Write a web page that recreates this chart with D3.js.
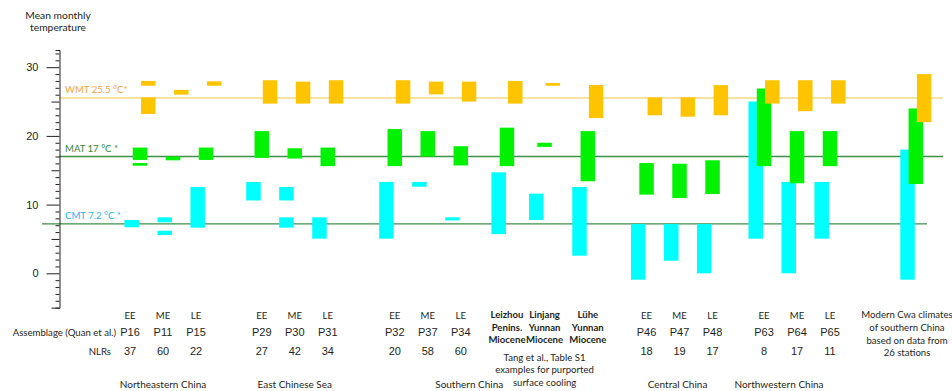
<!DOCTYPE html>
<html>
<head>
<meta charset="utf-8">
<script src="https://cdn.jsdelivr.net/npm/d3@7"></script>
<style>
  html, body { margin: 0; padding: 0; background: #fff; }
  svg { display: block; }
  .lbl { font-family: Lato, "Open Sans", sans-serif; fill: #231f20; }
  .num { font-family: "Liberation Sans", Arial, sans-serif; fill: #231f20; }
</style>
</head>
<body>
<svg id="chart" width="952" height="391"></svg>
<script>
// ---- data -------------------------------------------------------------
const assemblages = ["P16","P11","P15","P29","P30","P31","P32","P37","P34",
  "Leizhou","Linjang","Lühe","P46","P47","P48","P63","P64","P65","Modern"];
const eras = ["EE","ME","LE","EE","ME","LE","EE","ME","LE","","","",
  "EE","ME","LE","EE","ME","LE",""];
const nlrs = ["37","60","22","27","42","34","20","58","60","","","",
  "18","19","17","8","17","11",""];
const regionNames = ["Northeastern China","East Chinese Sea","Southern China",
  "Central China","Northwestern China"];
const regionOf = [0,0,0,1,1,1,2,2,2,2,2,2,3,3,3,4,4,4,-1];

// temperature ranges [low, high] in °C; some assemblages give two ranges
const wmtRanges = [
  [[23.2,25.6],[27.3,28.0]], [[26.0,26.7]], [[27.3,27.95]],
  [[24.7,28.1]], [[24.7,27.9]], [[24.7,28.1]],
  [[24.7,28.1]], [[26.05,27.9]], [[25.0,27.9]],
  [[24.7,28.0]], [[27.3,27.7]], [[22.6,27.4]],
  [[23.0,25.6]], [[22.8,25.6]], [[23.0,27.4]],
  [[24.7,28.1]], [[23.6,28.1]], [[24.7,28.1]],
  [[22.0,29.0]]
];
const matRanges = [
  [[16.5,18.3],[15.66,16.05]], [[16.45,17.0]], [[16.5,18.3]],
  [[16.8,20.7]], [[16.7,18.2]], [[15.6,18.3]],
  [[15.6,21.0]], [[17.0,20.7]], [[15.7,18.5]],
  [[15.6,21.2]], [[18.4,19.0]], [[13.4,20.7]],
  [[11.45,16.05]], [[10.96,15.95]], [[11.54,16.45]],
  [[15.6,26.9]], [[13.1,20.7]], [[15.6,20.7]],
  [[13.0,24.0]]
];
const cmtRanges = [
  [[6.7,7.76]], [[7.42,8.15],[5.57,6.2]], [[6.64,12.56]],
  [[10.6,13.3]], [[10.6,12.56],[6.64,8.15]], [[5.04,8.15]],
  [[5.04,13.3]], [[12.6,13.3]], [[7.7,8.15]],
  [[5.7,14.7]], [[7.76,11.6]], [[2.56,12.56]],
  [[-0.93,7.18]], [[1.83,7.18]], [[0,7.18]],
  [[5.04,25.0]], [[0,13.3]], [[5.04,13.3]],
  [[-0.93,18.0]]
];

const refNames = ["CMT","MAT","WMT"];
const refValues = [7.2, 17, 25.5];
const refLabels = ["CMT 7.2 °C *","MAT 17 °C *","WMT 25.5 °C*"];
const yTickLabels = [0, 10, 20, 30];

const specialLabels = [
  ["Leizhou","Penins.","Miocene"],
  ["Linjang","Yunnan","Miocene"],
  ["Lühe","Yunnan","Miocene"]
];
const tangNote = ["Tang et al., Table S1","examples for purported","surface cooling"];
const modernNote = ["Modern Cwa climates","of southern China","based on data from","26 stations"];

// ---- layout -----------------------------------------------------------
const colors = { CMT: "#00ffff", MAT: "#00f200", WMT: "#ffc400" };
const refLine = { CMT: "#3f8f4a", MAT: "#3f8f4a", WMT: "#f7e3a0" };
const refText = { CMT: "#27b7e8", MAT: "#2f8a3c", WMT: "#f0a43a" };

// extra spacing (in column steps) inserted before each assemblage
const gapBefore = { P29: 0.69, P32: 1.03, Leizhou: 0.4, Linjang: 0.14, "Lühe": 0.31,
  P46: 0.78, P63: 0.56, Modern: 1.6 };
let acc = 0;
const slot = assemblages.map((a, i) => { if (i > 0) acc += 1 + (gapBefore[a] || 0); return acc; });

const x = d3.scaleLinear().domain([0, 1]).range([140, 173]);
const cx = i => x(slot[i]);
const y = d3.scaleLinear().domain([0, 30]).range([273.3, 67.2]);
const inner = d3.scalePoint().domain(refNames).range([-8.3, 8.3]);
const barW = 14.5;

const svg = d3.select("#chart");

// reference lines
const lineSpan = { CMT: [42, 927], MAT: [59, 943], WMT: [59, 943] };
refNames.forEach((k, i) => {
  svg.append("line")
    .attr("x1", lineSpan[k][0]).attr("x2", lineSpan[k][1])
    .attr("y1", y(refValues[i])).attr("y2", y(refValues[i]))
    .attr("stroke", refLine[k]).attr("stroke-width", k === "WMT" ? 2 : 1.4);
  svg.append("text").attr("class", "lbl")
    .attr("x", 65).attr("y", y(refValues[i]) - 5)
    .style("fill", refText[k]).attr("font-size", 9.6)
    .text(refLabels[i]);
});

// range bars: CMT below, MAT over it, WMT on top
const seriesData = { CMT: cmtRanges, MAT: matRanges, WMT: wmtRanges };
refNames.forEach(k => {
  const rows = [];
  seriesData[k].forEach((ranges, i) => ranges.forEach(r => rows.push({ i, lo: r[0], hi: r[1] })));
  svg.append("g").selectAll("rect").data(rows).join("rect")
    .attr("x", d => cx(d.i) + inner(k) - barW / 2)
    .attr("width", barW)
    .attr("y", d => y(d.hi))
    .attr("height", d => y(d.lo) - y(d.hi))
    .attr("fill", colors[k]);
});

// y axis with 1° minor ticks
const axisScale = y.copy().domain([-5, 32.5]).range([y(-5), y(32.5)]);
const axis = d3.axisLeft(axisScale)
  .tickValues(d3.range(-5, 33))
  .tickSizeOuter(0)
  .tickSize(4)
  .tickPadding(9)
  .tickFormat(d => yTickLabels.includes(d) ? d : "");
const gAxis = svg.append("g").attr("transform", "translate(59.5,0)").call(axis);
gAxis.select(".domain").attr("stroke", "#231f20");
gAxis.selectAll(".tick line").attr("stroke", "#231f20")
  .attr("x2", d => d % 10 === 0 ? -13 : d % 5 === 0 ? -8 : -4);
gAxis.selectAll(".tick text").attr("class", "num").attr("font-size", 11)
  .attr("font-family", null).attr("x", -21);

// axis title
svg.append("text").attr("class", "lbl").attr("font-size", 10.3)
  .attr("text-anchor", "middle")
  .selectAll("tspan").data(["Mean monthly", "temperature"]).join("tspan")
  .attr("x", 58).attr("y", (d, i) => 19 + i * 12).text(d => d);

// bottom table
const rowY = { era: 319, asm: 336, nlr: 355, region: 388 };
const labelShift = i => regionOf[i] === 0 ? -10 : 0;
svg.append("text").attr("class", "lbl").attr("font-size", 9.6)
  .attr("text-anchor", "end").attr("x", 116).attr("y", rowY.asm)
  .text("Assemblage (Quan et al.)");
svg.append("text").attr("class", "lbl").attr("font-size", 9.6)
  .attr("text-anchor", "end").attr("x", 111).attr("y", rowY.nlr)
  .text("NLRs");

assemblages.forEach((a, i) => {
  if (!eras[i]) return;
  const xx = cx(i) + labelShift(i);
  svg.append("text").attr("class", "lbl").attr("font-size", 9.6)
    .attr("text-anchor", "middle").attr("x", xx).attr("y", rowY.era).text(eras[i]);
  svg.append("text").attr("class", "num").attr("font-size", 11)
    .attr("text-anchor", "middle").attr("x", xx).attr("y", rowY.asm).text(a);
  svg.append("text").attr("class", "num").attr("font-size", 11)
    .attr("text-anchor", "middle").attr("x", xx).attr("y", rowY.nlr).text(nlrs[i]);
});

// special southern China assemblages
const specialIdx = [9, 10, 11];
specialIdx.forEach((idx, j) => {
  svg.append("text").attr("class", "lbl").attr("font-size", 9.6)
    .attr("font-weight", "bold").attr("text-anchor", "middle")
    .selectAll("tspan").data(specialLabels[j]).join("tspan")
    .attr("x", cx(idx)).attr("y", (d, k) => 318 + k * 12.5).text(d => d);
});
svg.append("text").attr("class", "lbl").attr("font-size", 9.6)
  .attr("text-anchor", "middle")
  .selectAll("tspan").data(tangNote).join("tspan")
  .attr("x", cx(10)).attr("y", (d, k) => 361 + k * 12.3).text(d => d);

svg.append("text").attr("class", "lbl").attr("font-size", 9.6)
  .attr("text-anchor", "middle")
  .selectAll("tspan").data(modernNote).join("tspan")
  .attr("x", 907).attr("y", (d, k) => 318 + k * 12.8).text(d => d);

// region names under each group
const regionShift = [-10, 0, -22, -2, -18];
regionNames.forEach((name, r) => {
  const idx = regionOf.map((g, i) => g === r ? i : -1).filter(i => i >= 0);
  const mid = (cx(idx[0]) + cx(idx[idx.length - 1])) / 2;
  svg.append("text").attr("class", "lbl").attr("font-size", 10)
    .attr("text-anchor", "middle").attr("x", mid + regionShift[r]).attr("y", rowY.region)
    .text(name);
});
</script>
</body>
</html>
